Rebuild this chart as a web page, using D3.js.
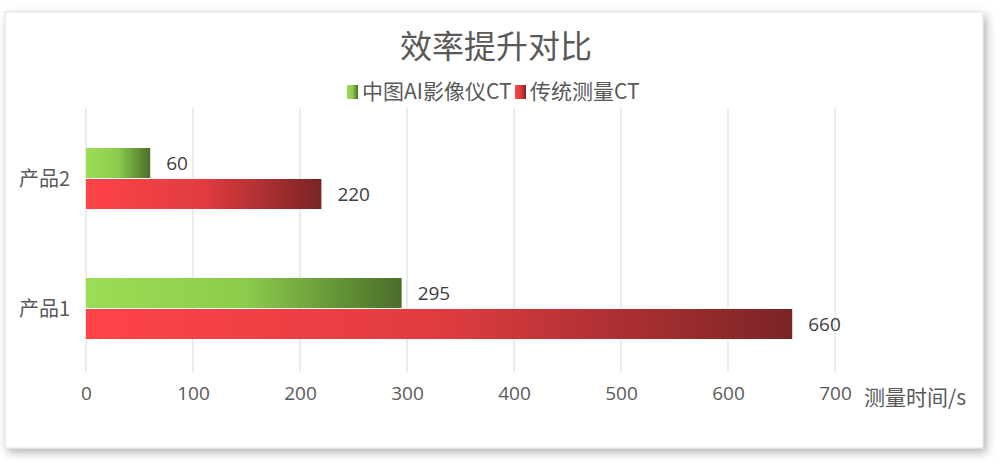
<!DOCTYPE html>
<head>
<meta charset="utf-8">
<style>
body { margin: 0; background: #fff; font-family: "Noto Sans CJK SC", "Open Sans", sans-serif; }
.grid line { stroke: #d9d9d9; stroke-width: 1; }
.tick text { fill: #595959; font-size: 19px; font-family: "Open Sans", "Noto Sans CJK SC", sans-serif; }
</style>
</head>
<body>
<script src="https://cdn.jsdelivr.net/npm/d3@7"></script>
<script>

var width = 1000, height = 474;

// data
var categories = ["产品2", "产品1"];
var seriesNames = ["中图AI影像仪CT", "传统测量CT"];
var aiValues = [60, 295];
var ctValues = [220, 660];
var xTicks = [0, 100, 200, 300, 400, 500, 600, 700];

var rows = categories.map(function(c, i){
  return {cat: c, values: [aiValues[i], ctValues[i]]};
});

var svg = d3.select("body").append("svg")
  .attr("width", width)
  .attr("height", height);

var defs = svg.append("defs");

var shadow = defs.append("filter").attr("id", "shadow")
  .attr("x", "-5%").attr("y", "-5%").attr("width", "110%").attr("height", "115%");
shadow.append("feDropShadow")
  .attr("dx", 3).attr("dy", 4).attr("stdDeviation", 5)
  .attr("flood-color", "#000").attr("flood-opacity", 0.3);

// bar gradients
var gradColors = [["#9ddc55", "#8ccc4c", "#4b6e2a"], ["#ff4448", "#e03c40", "#7a2426"]];
gradColors.forEach(function(c, i){
  var g = defs.append("linearGradient").attr("id", "grad" + i)
    .attr("x1", "0%").attr("x2", "100%").attr("y1", "0%").attr("y2", "0%");
  g.append("stop").attr("offset", "0%").attr("stop-color", c[0]);
  g.append("stop").attr("offset", "50%").attr("stop-color", c[1]);
  g.append("stop").attr("offset", "100%").attr("stop-color", c[2]);
});

// card
svg.append("rect")
  .attr("x", 5).attr("y", 12)
  .attr("width", 978).attr("height", 436)
  .attr("fill", "#fff")
  .attr("stroke", "#e0e0e0")
  .attr("filter", "url(#shadow)");

var x = d3.scaleLinear().domain([0, 700]).range([86, 835]);
var y = d3.scalePoint().domain(categories).range([114, 374]).padding(0.5);
var sub = d3.scaleBand().domain([0, 1]).range([-31, 31]).padding(0);

// gridlines
svg.append("g").attr("class", "grid")
  .selectAll("line")
  .data(xTicks)
  .enter().append("line")
  .attr("x1", function(d){ return x(d); })
  .attr("x2", function(d){ return x(d); })
  .attr("y1", 108)
  .attr("y2", 372);

// x axis labels
var xAxis = d3.axisBottom(x).tickValues(xTicks).tickSize(0).tickPadding(0);
svg.append("g")
  .attr("transform", "translate(0,386)")
  .call(xAxis)
  .call(function(g){ g.select(".domain").remove(); })
  .selectAll("text").attr("dy", "0.71em");

svg.append("text")
  .attr("x", 864).attr("y", 405)
  .attr("fill", "#595959")
  .style("font-size", "21px")
  .style("font-family", "'Noto Sans CJK SC', sans-serif")
  .text("测量时间/s");

// y axis labels
var yAxis = d3.axisLeft(y).tickSize(0).tickPadding(16);
svg.append("g")
  .attr("transform", "translate(86,0)")
  .call(yAxis)
  .call(function(g){ g.select(".domain").remove(); })
  .selectAll("text")
  .style("font-family", "'Noto Sans CJK SC', sans-serif")
  .style("font-size", "20px");

// bars
var groups = svg.selectAll(".cat")
  .data(rows)
  .enter().append("g")
  .attr("class", "cat")
  .attr("transform", function(d){ return "translate(0," + y(d.cat) + ")"; });

groups.selectAll("rect")
  .data(function(d){ return d.values; })
  .enter().append("rect")
  .attr("x", x(0))
  .attr("y", function(d, i){ return sub(i); })
  .attr("width", function(d){ return x(d) - x(0); })
  .attr("height", sub.bandwidth() - 1)
  .attr("fill", function(d, i){ return "url(#grad" + i + ")"; });

groups.selectAll("text.val")
  .data(function(d){ return d.values; })
  .enter().append("text")
  .attr("class", "val")
  .attr("x", function(d){ return x(d) + 16; })
  .attr("y", function(d, i){ return sub(i) + sub.bandwidth() / 2; })
  .attr("dy", "0.35em")
  .attr("fill", "#404040")
  .style("font-size", "19px")
  .style("font-family", "'Open Sans', sans-serif")
  .text(function(d){ return d; });

// title
svg.append("text")
  .attr("x", 496).attr("y", 58)
  .attr("text-anchor", "middle")
  .attr("fill", "#595959")
  .style("font-size", "32px")
  .style("font-family", "'Noto Sans CJK SC', sans-serif")
  .text("效率提升对比");

// legend
var legendX = [347, 515];
var legend = svg.selectAll(".legend")
  .data(seriesNames)
  .enter().append("g")
  .attr("class", "legend")
  .attr("transform", function(d, i){ return "translate(" + legendX[i] + ",92)"; });

legend.append("rect")
  .attr("x", 0).attr("y", -7)
  .attr("width", 11).attr("height", 14)
  .attr("fill", function(d, i){ return "url(#grad" + i + ")"; });

legend.append("text")
  .attr("x", 15).attr("y", 0)
  .attr("dy", "0.35em")
  .attr("fill", "#595959")
  .style("font-size", "21px")
  .style("font-family", "'Noto Sans CJK SC', sans-serif")
  .text(function(d){ return d; });

</script>
</body>
